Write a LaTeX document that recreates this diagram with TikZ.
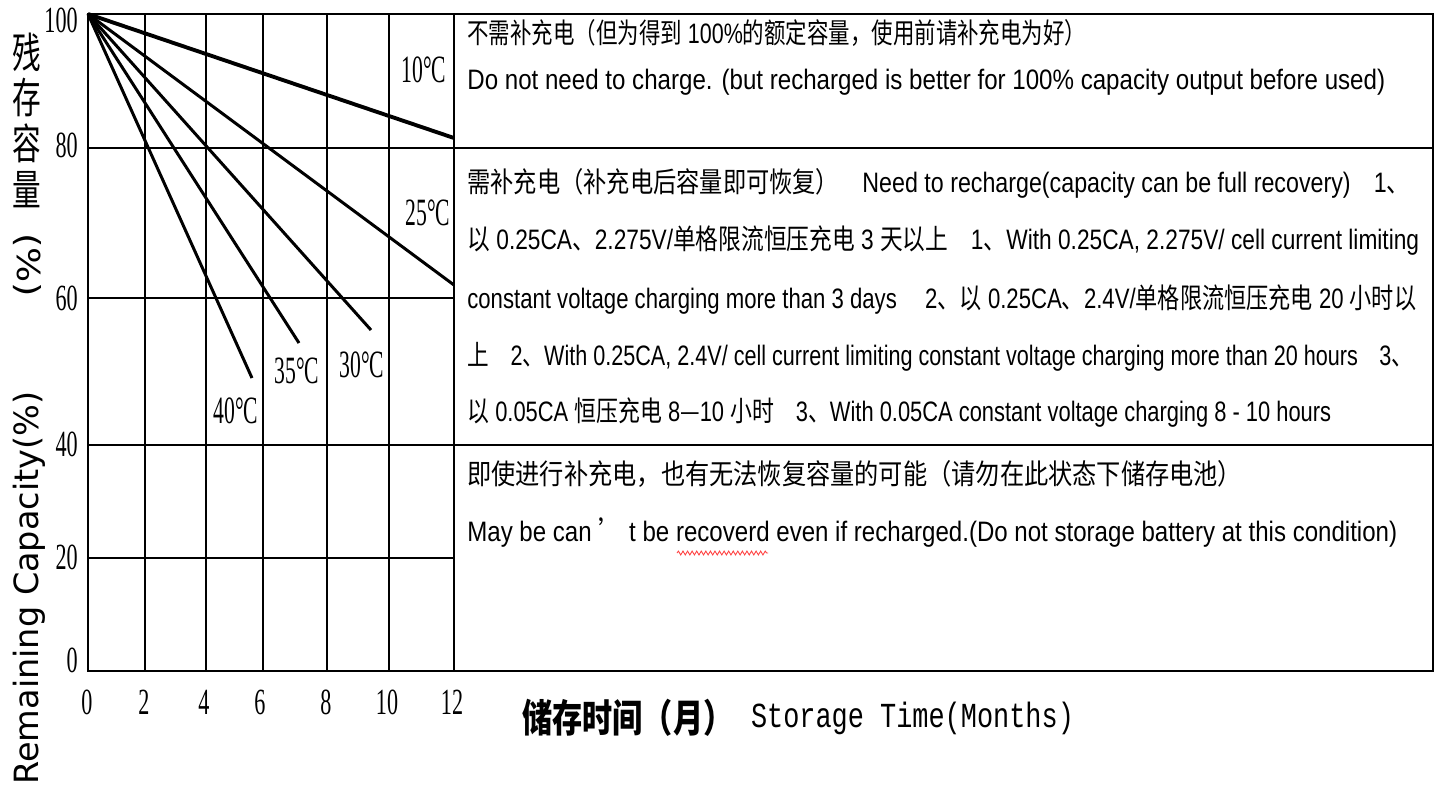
\documentclass[tikz,border=0pt]{standalone}
\usepackage{fontspec}
\usepackage{graphicx}
\usetikzlibrary{positioning,decorations.pathmorphing}
\setmainfont{Liberation Sans}
\newfontfamily\cjk{Noto Sans CJK SC}
\newfontfamily\numfont{Liberation Serif}
\newfontfamily\monofont{Liberation Mono}
\newfontfamily\axisfont{DejaVu Sans}
\newcommand{\zh}[1]{{\cjk #1}}
\newcommand{\narrow}[2][0.6]{\scalebox{#1}[1]{#2}}
\newsavebox{\fitbox}
\newcommand{\fitto}[2]{\sbox{\fitbox}{#2}\resizebox{#1}{\ht\fitbox}{\usebox{\fitbox}}}

\tikzset{
  gridline/.style={line width=1.1pt},
  frame/.style={line width=1.5pt},
  curve/.style={line width=1.7pt},
  tick/.style={inner sep=0pt,font=\numfont\fontsize{21}{21}\selectfont},
  templabel/.style={inner sep=0pt,font=\numfont\fontsize{22}{22}\selectfont},
  note/.style={anchor=west,inner sep=0pt,font=\fontsize{16}{16}\selectfont},
  spell/.style={draw=red!75,line width=0.5pt,decorate,decoration={snake,amplitude=1.1pt,segment length=2.6pt}}
}

\begin{document}
\begin{tikzpicture}[x=0.02cm,y=-0.02cm]
\useasboundingbox[fill=white] (0,0) rectangle (1438,792);

% grid and frame
\foreach \gx in {145,206,263,327,389}
  \draw[gridline] (\gx,14) -- (\gx,671);
\foreach \gy in {298,558}
  \draw[gridline] (88,\gy) -- (454,\gy);
\foreach \gy in {148,445}
  \draw[gridline] (88,\gy) -- (1433,\gy);
\draw[frame] (88,14) rectangle (1433,671);
\draw[frame] (454,14) -- (454,671);

% tick labels
\foreach \v/\py in {100/20,80/145,60/298,40/444,20/557,0/660}
  \node[tick,anchor=east] (y\v) at (78,\py) {\narrow{\v}};
\foreach \v/\px in {0/87,2/144,4/204,6/260,8/326,10/387,12/452}
  \node[tick] (x\v) at (\px,702) {\narrow{\v}};

% self discharge lines
\coordinate (o) at (88,14);
\coordinate (e10) at (454,138);
\coordinate (e25) at (454,285);
\coordinate (e30) at (371,330);
\coordinate (e35) at (299,343);
\coordinate (e40) at (252,378);
\draw[curve,line width=2.2pt] (o) -- (e10);
\draw[curve] (o) -- (e25);
\draw[curve] (o) -- (e30);
\draw[curve] (o) -- (e35);
\draw[curve] (o) -- (e40);

\node[templabel] (t10) at (424,70) {\narrow[0.56]{10°C}};
\node[templabel] (t25) at (428,213) {\narrow[0.56]{25°C}};
\node[templabel] (t30) at (362,365) {\narrow[0.56]{30°C}};
\node[templabel] (t35) at (297,371) {\narrow[0.56]{35°C}};
\node[templabel] (t40) at (236,411) {\narrow[0.56]{40°C}};

% axis titles
\node[inner sep=0pt,align=center,font=\cjk\fontsize{24}{26}\selectfont] (yzh) at (27,120)
  {\narrow[0.68]{残}\\\narrow[0.68]{存}\\\narrow[0.68]{容}\\\narrow[0.68]{量}};
\node[rotate=-90,inner sep=0pt,font=\axisfont\fontsize{18}{18}\selectfont] (ypct) at (27,265)
  {\fitto{1.28cm}{(\%)}};
\node[rotate=90,inner sep=0pt,font=\axisfont\fontsize{19}{19}\selectfont] (yen) at (29,588)
  {\fitto{7.86cm}{Remaining Capacity(\%)}};

\node[anchor=west,inner sep=0pt,font=\cjk\bfseries\fontsize{22}{22}\selectfont] (zhtime) at (522,718)
  {\fitto{4.22cm}{储存时间（月）}};
\node[right=0.34cm of zhtime,inner sep=0pt,font=\monofont\fontsize{20}{20}\selectfont] (entime)
  {\fitto{6.46cm}{Storage Time(Months)}};

% notes, box 1
\node[note] (n1a) at (467,33)
  {\fitto{12.38cm}{\zh{不需补充电（但为得到} 100\%\zh{的额定容量，使用前请补充电为好）}}};
\node[note] (n1b) at (467,82)
  {\fitto{18.36cm}{Do not need to charge. (but recharged is better for 100\% capacity output before used)}};

% notes, box 2
\node[note] (n2a) at (467,183)
  {\fitto{18.86cm}{\zh{需补充电（补充电后容量即可恢复）}\quad Need to recharge(capacity can be full recovery)\quad 1\zh{、}}};
\node[note] (n2b) at (467,241)
  {\fitto{19.04cm}{\zh{以} 0.25CA\zh{、}2.275V/\zh{单格限流恒压充电} 3 \zh{天以上}\quad 1\zh{、}With 0.25CA, 2.275V/ cell current limiting}};
\node[note] (n2c) at (467,300)
  {\fitto{18.98cm}{constant voltage charging more than 3 days\quad\ 2\zh{、以} 0.25CA\zh{、}2.4V/\zh{单格限流恒压充电} 20 \zh{小时以}}};
\node[note] (n2d) at (467,357)
  {\fitto{18.92cm}{\zh{上}\quad 2\zh{、}With 0.25CA, 2.4V/ cell current limiting constant voltage charging more than 20 hours\quad 3\zh{、}}};
\node[note] (n2e) at (467,413)
  {\fitto{17.28cm}{\zh{以} 0.05CA \zh{恒压充电} 8\zh{—}10 \zh{小时}\quad 3\zh{、}With 0.05CA constant voltage charging 8 - 10 hours}};

% notes, box 3
\node[note] (n3a) at (467,474)
  {\fitto{15.5cm}{\zh{即使进行补充电，也有无法恢复容量的可能（请勿在此状态下储存电池）}}};
\node[note] (n3b) at (467,533)
  {\fitto{18.6cm}{May be can \zh{’} t be recoverd even if recharged.(Do not storage battery at this condition)}};
\draw[spell] (677,553) -- (768,553);
\end{tikzpicture}
\end{document}
